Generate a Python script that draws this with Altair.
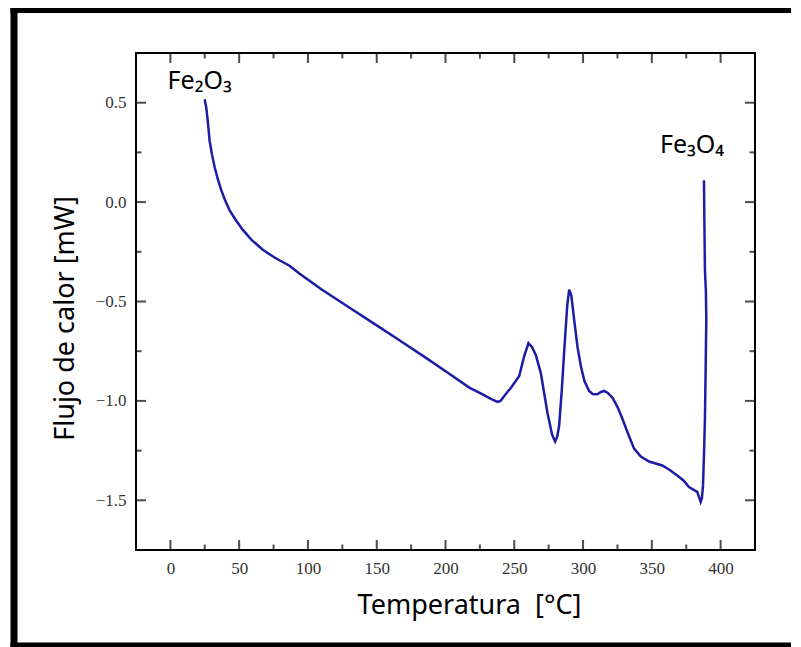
import altair as alt
import pandas as pd

# ---- data ----
temperature = [24.9, 26.1, 27.3, 28.5, 30.2, 32.2, 34.5, 37.0, 40.0, 43.0, 47.5, 52.7, 59.0, 67.2,
               76.0, 86.6, 94.0, 110.0, 130.0, 150.0, 166.5, 185.0, 203.0, 217.3, 227.0, 233.0,
               237.8, 240.0, 242.7, 248.0, 253.6, 257.2, 260.3, 263.0, 265.7, 269.3, 274.1,
               277.5, 279.7, 281.2, 282.6, 284.5, 286.2, 288.5, 289.9, 291.5, 293.5, 296.0,
               298.4, 301.0, 304.4, 307.0, 310.4, 313.0, 315.3, 318.0, 321.3, 325.0, 328.6,
               333.0, 337.1, 342.0, 348.0, 357.6, 362.5, 368.5, 373.0, 377.0, 383.0, 385.5,
               386.4, 387.2, 388.0, 388.6, 389.2, 389.6, 389.3, 388.6, 388.2, 387.9]
heat_flow = [0.517, 0.475, 0.40, 0.31, 0.24, 0.175, 0.115, 0.06, 0.005, -0.04, -0.09, -0.14, -0.19,
             -0.24, -0.28, -0.32, -0.36, -0.44, -0.53, -0.62, -0.695, -0.78, -0.865, -0.933,
             -0.967, -0.99, -1.005, -1.0, -0.975, -0.93, -0.875, -0.775, -0.71, -0.73, -0.77,
             -0.86, -1.06, -1.17, -1.205, -1.18, -1.125, -0.95, -0.76, -0.52, -0.44, -0.47,
             -0.59, -0.73, -0.825, -0.90, -0.95, -0.965, -0.967, -0.955, -0.95, -0.96, -0.983,
             -1.03, -1.09, -1.17, -1.24, -1.28, -1.305, -1.325, -1.345, -1.375, -1.40, -1.433,
             -1.458, -1.508, -1.49, -1.425, -1.25, -1.09, -0.80, -0.59, -0.45, -0.34, -0.10, 0.11]

x_major = [0, 50, 100, 150, 200, 250, 300, 350, 400]
x_minor = [25, 75, 125, 175, 225, 275, 325, 375]
y_major = [-1.5, -1.0, -0.5, 0.0, 0.5]
y_minor = [-1.25, -0.75, -0.25, 0.25]

start_label = ["Fe\u2082O\u2083"]
end_label = ["Fe\u2083O\u2084"]

W, H = 619, 497
PAD_RIGHT = 36
PAD_BOTTOM = 110
xs = alt.Scale(domain=[-25, 425], nice=False, zero=False)
ys = alt.Scale(domain=[-1.75, 0.75], nice=False, zero=False)

curve = pd.DataFrame({"T": temperature, "F": heat_flow, "i": list(range(len(temperature)))})

line = alt.Chart(curve).mark_line(color="#1c1ca6", strokeWidth=2.5, clip=True).encode(
    x=alt.X("T:Q", scale=xs, axis=alt.Axis(
        values=x_major, ticks=False, domain=False, grid=False,
        labelFont="Liberation Serif", labelFontSize=17, labelColor="#333333", labelPadding=10,
        title="Temperatura\u00a0 [°C]", titleFont="Noto Sans", titleFontSize=27,
        titleFontWeight="normal", titleColor="black", titleX=333, titleY=63,
        titleBaseline="alphabetic")),
    y=alt.Y("F:Q", scale=ys, axis=alt.Axis(
        values=y_major, format=".1f", ticks=False, domain=False, grid=False,
        labelFont="Liberation Serif", labelFontSize=17, labelColor="#333333", labelPadding=10,
        title="Flujo de calor [mW]", titleFont="Noto Sans", titleFontSize=27,
        titleFontWeight="normal", titleColor="black", titleX=-63, titleY=265,
        titleBaseline="alphabetic")),
    order="i:Q",
)

xt = pd.DataFrame({"v": x_major + x_minor, "len": [20] * len(x_major) + [11] * len(x_minor)})
yt = pd.DataFrame({"v": y_major + y_minor, "len": [20] * len(y_major) + [11] * len(y_minor)})

def xticks(ypix):
    return alt.Chart(xt).mark_tick(color="black", thickness=2, clip=True).encode(
        x=alt.X("v:Q", scale=xs, axis=None), y=alt.value(ypix),
        size=alt.Size("len:Q", scale=None, legend=None))

def yticks(xpix):
    return alt.Chart(yt).mark_tick(color="black", thickness=2, clip=True).encode(
        y=alt.Y("v:Q", scale=ys, axis=None), x=alt.value(xpix),
        size=alt.Size("len:Q", scale=None, legend=None))

first = curve.iloc[[0]].assign(label=start_label)
last = curve.iloc[[-1]].assign(label=end_label)

lab1 = alt.Chart(first).mark_text(font="Noto Sans", fontSize=25, color="black",
                                  align="center", baseline="alphabetic", dx=-5, dy=-10).encode(
    x=alt.X("T:Q", scale=xs, axis=None), y=alt.Y("F:Q", scale=ys, axis=None), text="label:N")
lab2 = alt.Chart(last).mark_text(font="Noto Sans", fontSize=25, color="black",
                                 align="center", baseline="alphabetic", dx=-12, dy=-27).encode(
    x=alt.X("T:Q", scale=xs, axis=None), y=alt.Y("F:Q", scale=ys, axis=None), text="label:N")

one = pd.DataFrame({"a": [0]})
frame_left = alt.Chart(one).mark_rule(color="black", strokeWidth=7).encode(
    x=alt.value(-122), y=alt.value(-45), y2=alt.value(H + PAD_BOTTOM))
frame_top = alt.Chart(one).mark_rule(color="black", strokeWidth=8).encode(
    x=alt.value(-125.5), x2=alt.value(W + PAD_RIGHT), y=alt.value(-44))
frame_bottom = alt.Chart(one).mark_rule(color="black", strokeWidth=7).encode(
    x=alt.value(-125.5), x2=alt.value(W + PAD_RIGHT), y=alt.value(593))

chart = alt.layer(
    frame_left, frame_top, frame_bottom, line,
    xticks(H), xticks(0), yticks(0), yticks(W), lab1, lab2
).resolve_axis(x="independent", y="independent").properties(
    width=W, height=H,
    autosize=alt.AutoSizeParams(type="none"),
    padding={"left": 128, "top": 45, "right": PAD_RIGHT, "bottom": PAD_BOTTOM},
    background="white",
).configure_view(stroke="black", strokeWidth=2)

chart.save("out.html", embed_options={"renderer": "svg", "actions": False})
